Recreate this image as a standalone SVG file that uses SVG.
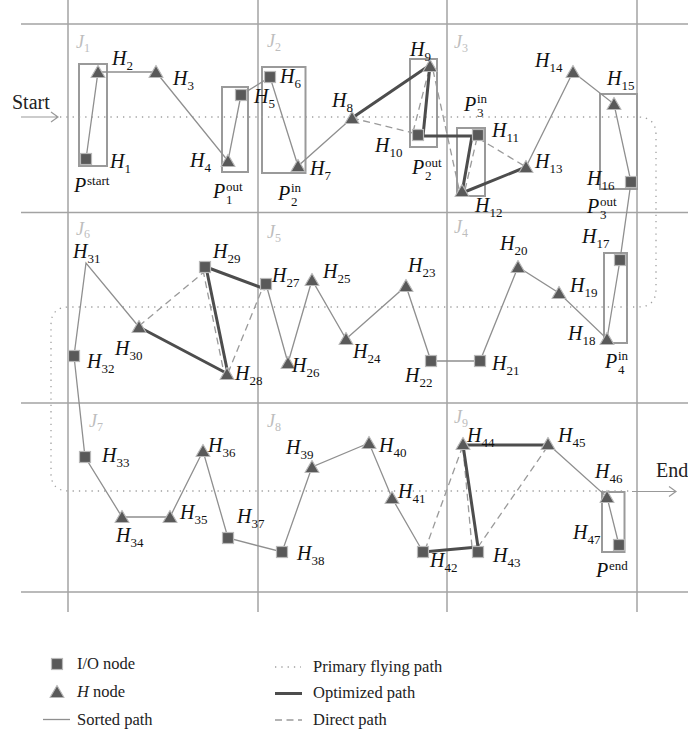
<svg xmlns="http://www.w3.org/2000/svg" xmlns:xlink="http://www.w3.org/1999/xlink" width="688" height="734" viewBox="0 0 688 734">
  <style>
    .grid { stroke: #a3a3a3; stroke-width: 1.5; fill: none; }
    .box { stroke: #9a9a9a; stroke-width: 2; fill: none; }
    .sorted { stroke: #8f8f8f; stroke-width: 1.3; fill: none; }
    .opt { stroke: #4d4d4d; stroke-width: 3; fill: none; stroke-linejoin: round; }
    .direct { stroke: #9a9a9a; stroke-width: 1.3; stroke-dasharray: 7 4.5; fill: none; }
    .fly { stroke: #a0a0a0; stroke-width: 1.3; stroke-dasharray: 1.3 5; fill: none; }
    .arrow { stroke: #999; stroke-width: 1.2; fill: none; }
    .io { fill: #595959; stroke: #b8b8b8; stroke-width: 1.2; }
    .hn { fill: #595959; stroke: #b8b8b8; stroke-width: 1.2; stroke-linejoin: round; }
    .lbl { font-family: "Liberation Serif", serif; font-style: italic; font-size: 20px; fill: #111; }
    .sub { font-style: normal; font-size: 13px; }
    .cell { font-family: "Liberation Serif", serif; font-style: italic; font-size: 18px; fill: #bdbdbd; }
    .csub { font-style: normal; font-size: 12px; }
    .txt { font-family: "Liberation Serif", serif; font-size: 20px; fill: #222; }
    .leg { font-family: "Liberation Serif", serif; font-size: 16.5px; fill: #222; }
  </style>
  <defs>
    <rect id="sq" x="-5.5" y="-5.5" width="11" height="11"/>
    <path id="tri" d="M0,-6.5 L7,5.5 L-7,5.5 Z"/>
  </defs>

  <!-- 3x3 cell grid -->
  <g id="grid">
    <line class="grid" x1="68" y1="0" x2="68" y2="612"/>
    <line class="grid" x1="258" y1="0" x2="258" y2="612"/>
    <line class="grid" x1="447" y1="0" x2="447" y2="612"/>
    <line class="grid" x1="637" y1="0" x2="637" y2="612"/>
    <line class="grid" x1="21" y1="24" x2="688" y2="24"/>
    <line class="grid" x1="21" y1="212.5" x2="688" y2="212.5"/>
    <line class="grid" x1="21" y1="403" x2="688" y2="403"/>
    <line class="grid" x1="21" y1="592" x2="688" y2="592"/>
  </g>

  <!-- cell names -->
  <g id="cells">
    <text class="cell" x="76" y="48">J<tspan class="csub" dy="4">1</tspan></text>
    <text class="cell" x="267" y="47">J<tspan class="csub" dy="4">2</tspan></text>
    <text class="cell" x="454" y="48">J<tspan class="csub" dy="4">3</tspan></text>
    <text class="cell" x="454" y="233">J<tspan class="csub" dy="4">4</tspan></text>
    <text class="cell" x="267" y="238">J<tspan class="csub" dy="4">5</tspan></text>
    <text class="cell" x="76" y="235">J<tspan class="csub" dy="3">6</tspan></text>
    <text class="cell" x="89" y="427">J<tspan class="csub" dy="4">7</tspan></text>
    <text class="cell" x="267" y="427">J<tspan class="csub" dy="4">8</tspan></text>
    <text class="cell" x="454" y="423">J<tspan class="csub" dy="4">9</tspan></text>
  </g>

  <!-- entry / exit boxes around node pairs -->
  <g id="boxes">
    <rect class="box" x="79" y="64" width="28" height="102"/>
    <rect class="box" x="222" y="87" width="26" height="85"/>
    <rect class="box" x="262" y="67" width="43.5" height="106"/>
    <rect class="box" x="410" y="59" width="27" height="88"/>
    <rect class="box" x="457" y="128" width="28" height="68"/>
    <rect class="box" x="600" y="94" width="37" height="95"/>
    <rect class="box" x="604" y="253" width="23" height="90"/>
    <rect class="box" x="602" y="492" width="22.5" height="60"/>
  </g>

  <g id="connectors">
    <!-- primary flying path -->
    <path class="fly" d="M60,117 H638 Q656,117 656,135 V289 Q656,307 638,307 H69 Q51,307 51,325 V473 Q51,491 69,491 H632"/>
    <!-- start / end arrows -->
    <path class="arrow" d="M21,117 H58 M51,112 L58,117 L51,122"/>
    <path class="arrow" d="M632,491.5 H676 M669,486.5 L676,491.5 L669,496.5"/>

    <!-- sorted path -->
    <polyline class="sorted" points="86,159 98,72 156,72 228,161 241,95 270,77 298,166 352,118"/>
    <polyline class="sorted" points="526,167 573,72 614,104 631,182 620,260 607,339 559,293 518,267 480,361 431,361 406,286 346,339 312,280 288,363 266,284"/>
    <polyline class="sorted" points="139,327 86,263 74,356 85,457 122,517 170,517 203,451 228,538 282,552 312,467 369,443 392,498 423,552"/>
    <polyline class="sorted" points="548,444 607,497 619,545"/>

    <!-- direct paths -->
    <line class="direct" x1="352" y1="118" x2="413" y2="133"/>
    <line class="direct" x1="413" y1="132" x2="430" y2="66"/>
    <line class="direct" x1="433" y1="70" x2="459" y2="189"/>
    <line class="direct" x1="465" y1="190" x2="477" y2="138"/>
    <line class="direct" x1="478" y1="138" x2="526" y2="167"/>
    <line class="direct" x1="139" y1="326" x2="204" y2="272"/>
    <line class="direct" x1="203" y1="270" x2="224" y2="373"/>
    <line class="direct" x1="228" y1="373" x2="263" y2="287"/>
    <line class="direct" x1="425" y1="550" x2="462" y2="448"/>
    <line class="direct" x1="463" y1="448" x2="472" y2="547"/>
    <line class="direct" x1="478" y1="547" x2="548" y2="446"/>

    <!-- optimized paths -->
    <polyline class="opt" points="352,118 430,65 423,136 472,136 462,193 526,167"/>
    <polyline class="opt" points="265,289 206,267 228,374 139,327"/>
    <polyline class="opt" points="423,552 478,547 463,445 548,445"/>
  </g>

  <!-- nodes -->
  <g id="H1"><use xlink:href="#sq" class="io" x="86" y="159"/><text class="lbl" x="110" y="168">H<tspan class="sub" dy="5">1</tspan></text><text class="lbl" x="74" y="192">P<tspan class="sub" x="87" y="185">start</tspan></text></g>
  <g id="H2"><use xlink:href="#tri" class="hn" x="98" y="72"/><text class="lbl" x="112" y="65">H<tspan class="sub" dy="5">2</tspan></text></g>
  <g id="H3"><use xlink:href="#tri" class="hn" x="156" y="72"/><text class="lbl" x="173" y="85">H<tspan class="sub" dy="5">3</tspan></text></g>
  <g id="H4"><use xlink:href="#tri" class="hn" x="228" y="161"/><text class="lbl" x="190" y="167">H<tspan class="sub" dy="5">4</tspan></text><text class="lbl" x="213" y="198">P<tspan class="sub" x="226" y="204">1</tspan><tspan class="sub" x="226" y="191">out</tspan></text></g>
  <g id="H5"><use xlink:href="#sq" class="io" x="241" y="95"/><text class="lbl" x="254" y="103">H<tspan class="sub" dy="5">5</tspan></text></g>
  <g id="H6"><use xlink:href="#sq" class="io" x="270" y="77"/><text class="lbl" x="280" y="83">H<tspan class="sub" dy="5">6</tspan></text></g>
  <g id="H7"><use xlink:href="#tri" class="hn" x="298" y="166"/><text class="lbl" x="310" y="175">H<tspan class="sub" dy="5">7</tspan></text><text class="lbl" x="278" y="200">P<tspan class="sub" x="291" y="206">2</tspan><tspan class="sub" x="291" y="192">in</tspan></text></g>
  <g id="H8"><use xlink:href="#tri" class="hn" x="352" y="118"/><text class="lbl" x="332" y="107">H<tspan class="sub" dy="5">8</tspan></text></g>
  <g id="H9"><use xlink:href="#tri" class="hn" x="430" y="66"/><text class="lbl" x="410" y="56">H<tspan class="sub" dy="5">9</tspan></text></g>
  <g id="H10"><use xlink:href="#sq" class="io" x="418" y="135"/><text class="lbl" x="375" y="152">H<tspan class="sub" dy="5">10</tspan></text><text class="lbl" x="412" y="174">P<tspan class="sub" x="425" y="180">2</tspan><tspan class="sub" x="425" y="167">out</tspan></text></g>
  <g id="H11"><use xlink:href="#sq" class="io" x="478" y="135"/><text class="lbl" x="492" y="137">H<tspan class="sub" dy="5">11</tspan></text><text class="lbl" x="464" y="111">P<tspan class="sub" x="477" y="117">3</tspan><tspan class="sub" x="477" y="103">in</tspan></text></g>
  <g id="H12"><use xlink:href="#tri" class="hn" x="462" y="191"/><text class="lbl" x="475" y="212">H<tspan class="sub" dy="5">12</tspan></text></g>
  <g id="H13"><use xlink:href="#tri" class="hn" x="526" y="167"/><text class="lbl" x="535" y="168">H<tspan class="sub" dy="5">13</tspan></text></g>
  <g id="H14"><use xlink:href="#tri" class="hn" x="573" y="72"/><text class="lbl" x="535" y="67">H<tspan class="sub" dy="5">14</tspan></text></g>
  <g id="H15"><use xlink:href="#tri" class="hn" x="614" y="104"/><text class="lbl" x="607" y="85">H<tspan class="sub" dy="5">15</tspan></text></g>
  <g id="H16"><use xlink:href="#sq" class="io" x="631" y="182"/><text class="lbl" x="587" y="185">H<tspan class="sub" dy="5">16</tspan></text><text class="lbl" x="587" y="213">P<tspan class="sub" x="600" y="219">3</tspan><tspan class="sub" x="600" y="206">out</tspan></text></g>
  <g id="H17"><use xlink:href="#sq" class="io" x="620" y="260"/><text class="lbl" x="582" y="243">H<tspan class="sub" dy="5">17</tspan></text></g>
  <g id="H18"><use xlink:href="#tri" class="hn" x="607" y="339"/><text class="lbl" x="568" y="340">H<tspan class="sub" dy="5">18</tspan></text><text class="lbl" x="605" y="368">P<tspan class="sub" x="618" y="374">4</tspan><tspan class="sub" x="618" y="360">in</tspan></text></g>
  <g id="H19"><use xlink:href="#tri" class="hn" x="559" y="293"/><text class="lbl" x="570" y="292">H<tspan class="sub" dy="5">19</tspan></text></g>
  <g id="H20"><use xlink:href="#tri" class="hn" x="518" y="267"/><text class="lbl" x="500" y="250">H<tspan class="sub" dy="5">20</tspan></text></g>
  <g id="H21"><use xlink:href="#sq" class="io" x="480" y="361"/><text class="lbl" x="492" y="370">H<tspan class="sub" dy="5">21</tspan></text></g>
  <g id="H22"><use xlink:href="#sq" class="io" x="431" y="361"/><text class="lbl" x="405" y="382">H<tspan class="sub" dy="5">22</tspan></text></g>
  <g id="H23"><use xlink:href="#tri" class="hn" x="406" y="286"/><text class="lbl" x="408" y="272">H<tspan class="sub" dy="5">23</tspan></text></g>
  <g id="H24"><use xlink:href="#tri" class="hn" x="346" y="339"/><text class="lbl" x="353" y="358">H<tspan class="sub" dy="5">24</tspan></text></g>
  <g id="H25"><use xlink:href="#tri" class="hn" x="312" y="280"/><text class="lbl" x="323" y="278">H<tspan class="sub" dy="5">25</tspan></text></g>
  <g id="H26"><use xlink:href="#tri" class="hn" x="288" y="363"/><text class="lbl" x="292" y="372">H<tspan class="sub" dy="5">26</tspan></text></g>
  <g id="H27"><use xlink:href="#sq" class="io" x="266" y="284"/><text class="lbl" x="272" y="282">H<tspan class="sub" dy="5">27</tspan></text></g>
  <g id="H28"><use xlink:href="#tri" class="hn" x="227" y="374"/><text class="lbl" x="235" y="380">H<tspan class="sub" dy="5">28</tspan></text></g>
  <g id="H29"><use xlink:href="#sq" class="io" x="205" y="267"/><text class="lbl" x="213" y="258">H<tspan class="sub" dy="5">29</tspan></text></g>
  <g id="H30"><use xlink:href="#tri" class="hn" x="139" y="327"/><text class="lbl" x="115" y="355">H<tspan class="sub" dy="5">30</tspan></text></g>
  <g id="H31"><text class="lbl" x="73" y="258">H<tspan class="sub" dy="5">31</tspan></text></g>
  <g id="H32"><use xlink:href="#sq" class="io" x="74" y="356"/><text class="lbl" x="87" y="368">H<tspan class="sub" dy="5">32</tspan></text></g>
  <g id="H33"><use xlink:href="#sq" class="io" x="85" y="457"/><text class="lbl" x="102" y="462">H<tspan class="sub" dy="5">33</tspan></text></g>
  <g id="H34"><use xlink:href="#tri" class="hn" x="122" y="517"/><text class="lbl" x="116" y="542">H<tspan class="sub" dy="5">34</tspan></text></g>
  <g id="H35"><use xlink:href="#tri" class="hn" x="170" y="517"/><text class="lbl" x="180" y="519">H<tspan class="sub" dy="5">35</tspan></text></g>
  <g id="H36"><use xlink:href="#tri" class="hn" x="203" y="451"/><text class="lbl" x="208" y="452">H<tspan class="sub" dy="5">36</tspan></text></g>
  <g id="H37"><use xlink:href="#sq" class="io" x="228" y="538"/><text class="lbl" x="237" y="523">H<tspan class="sub" dy="5">37</tspan></text></g>
  <g id="H38"><use xlink:href="#sq" class="io" x="282" y="552"/><text class="lbl" x="297" y="560">H<tspan class="sub" dy="5">38</tspan></text></g>
  <g id="H39"><use xlink:href="#tri" class="hn" x="312" y="467"/><text class="lbl" x="286" y="454">H<tspan class="sub" dy="5">39</tspan></text></g>
  <g id="H40"><use xlink:href="#tri" class="hn" x="369" y="443"/><text class="lbl" x="379" y="452">H<tspan class="sub" dy="5">40</tspan></text></g>
  <g id="H41"><use xlink:href="#tri" class="hn" x="392" y="498"/><text class="lbl" x="398" y="498">H<tspan class="sub" dy="5">41</tspan></text></g>
  <g id="H42"><use xlink:href="#sq" class="io" x="423" y="552"/><text class="lbl" x="430" y="567">H<tspan class="sub" dy="5">42</tspan></text></g>
  <g id="H43"><use xlink:href="#sq" class="io" x="478" y="552"/><text class="lbl" x="493" y="562">H<tspan class="sub" dy="5">43</tspan></text></g>
  <g id="H44"><use xlink:href="#tri" class="hn" x="463" y="444"/><text class="lbl" x="467" y="442">H<tspan class="sub" dy="5">44</tspan></text></g>
  <g id="H45"><use xlink:href="#tri" class="hn" x="548" y="444"/><text class="lbl" x="558" y="442">H<tspan class="sub" dy="5">45</tspan></text></g>
  <g id="H46"><use xlink:href="#tri" class="hn" x="607" y="497"/><text class="lbl" x="595" y="478">H<tspan class="sub" dy="5">46</tspan></text></g>
  <g id="H47"><use xlink:href="#sq" class="io" x="619" y="545"/><text class="lbl" x="573" y="539">H<tspan class="sub" dy="5">47</tspan></text><text class="lbl" x="596" y="577">P<tspan class="sub" x="609" y="570">end</tspan></text></g>

  <!-- start / end captions -->
  <text class="txt" x="12" y="109">Start</text>
  <text class="txt" x="656" y="477">End</text>

  <!-- legend -->
  <g id="legend">
    <use xlink:href="#sq" class="io" x="57" y="664"/>
    <text class="leg" x="77" y="669">I/O node</text>
    <use xlink:href="#tri" class="hn" x="57" y="692"/>
    <text class="leg" x="77" y="697"><tspan font-style="italic">H</tspan> node</text>
    <line class="sorted" x1="43" y1="719.5" x2="70" y2="719.5"/>
    <text class="leg" x="77" y="725">Sorted path</text>
    <line class="fly" x1="275" y1="667" x2="301" y2="667"/>
    <text class="leg" x="313" y="672">Primary flying path</text>
    <line class="opt" x1="275" y1="693.5" x2="302" y2="693.5"/>
    <text class="leg" x="313" y="698">Optimized path</text>
    <line class="direct" x1="275" y1="720" x2="302" y2="720"/>
    <text class="leg" x="313" y="725">Direct path</text>
  </g>
</svg>
